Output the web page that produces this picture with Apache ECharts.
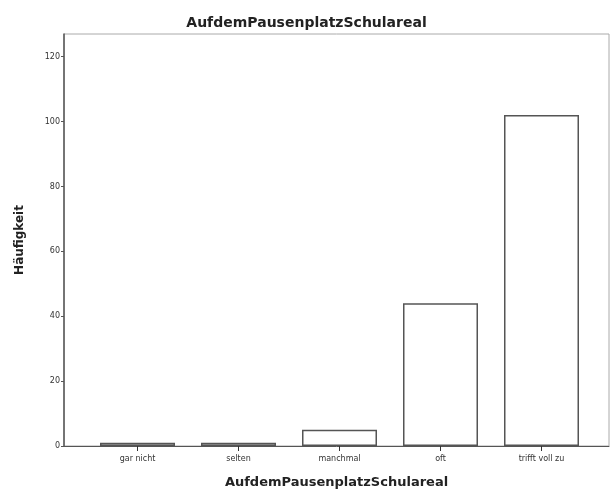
<!DOCTYPE html>
<html><head><meta charset="utf-8">
<script src="https://cdn.jsdelivr.net/npm/echarts@6/dist/echarts.min.js"></script>
<style>html,body{margin:0;padding:0;background:#fff}#c{width:613px;height:497px}</style>
</head><body><div id="c"></div>
<script>
const categories = ['gar nicht', 'selten', 'manchmal', 'oft', 'trifft voll zu'];
const counts = [1, 1, 5, 44, 102];
const yTicks = [0, 20, 40, 60, 80, 100, 120];
const titleText = 'AufdemPausenplatzSchulareal';
const xName = 'AufdemPausenplatzSchulareal';
const yName = 'Häufigkeit';

const chart = echarts.init(document.getElementById('c'));
const font = 'DejaVu Sans';
chart.setOption({
  animation: false,
  backgroundColor: '#fff',
  title: {
    text: titleText, left: 'center', top: 11,
    textStyle: {fontFamily: font, fontSize: 14, fontWeight: 'bold', color: '#222'}
  },
  grid: [
    {left: 64, right: 4, top: 34, bottom: 51, show: true, borderColor: '#aaa', borderWidth: 1, backgroundColor: 'transparent'},
    {left: 87, width: 505, top: 34, bottom: 51}
  ],
  xAxis: [
    {type: 'value', gridIndex: 0, min: 0, max: 1,
     axisLine: {show: true, onZero: false, lineStyle: {color: '#555', width: 1}},
     axisTick: {show: false}, axisLabel: {show: false}, splitLine: {show: false},
     name: xName, nameLocation: 'middle', nameGap: 30,
     nameTextStyle: {fontFamily: font, fontSize: 13, fontWeight: 'bold', color: '#222'}},
    {type: 'category', gridIndex: 1, data: categories,
     axisLine: {show: false},
     axisTick: {show: true, alignWithLabel: true, length: 5, lineStyle: {color: '#333'}},
     axisLabel: {fontFamily: font, fontSize: 8, color: '#333', margin: 9}}
  ],
  yAxis: [
    {type: 'value', gridIndex: 0, min: 0, max: 127,
     axisLine: {show: true, lineStyle: {color: '#555', width: 1.5}},
     axisTick: {show: true, length: 3, customValues: yTicks, lineStyle: {color: '#555'}},
     axisLabel: {customValues: yTicks, fontFamily: font, fontSize: 8, color: '#333', margin: 4},
     splitLine: {show: false},
     name: yName, nameLocation: 'middle', nameGap: 38, nameRotate: 90,
     nameTextStyle: {fontFamily: font, fontSize: 12, fontWeight: 'bold', color: '#222'}},
    {type: 'value', gridIndex: 1, min: 0, max: 127, show: false}
  ],
  series: [{
    type: 'bar', xAxisIndex: 1, yAxisIndex: 1, data: counts, barWidth: 75,
    itemStyle: {color: '#fff', borderColor: '#555', borderWidth: 1.5}
  }]
});
</script></body></html>
